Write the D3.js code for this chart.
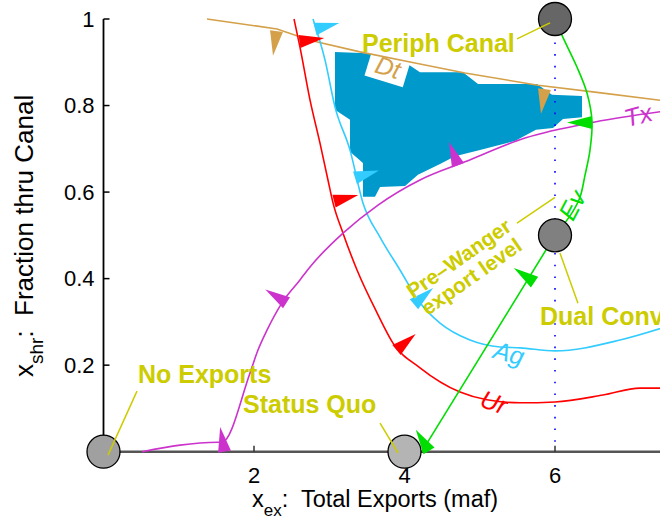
<!DOCTYPE html>
<html>
<head>
<meta charset="utf-8">
<script src="https://cdn.jsdelivr.net/npm/d3@7"></script>
<style>
  html, body { margin: 0; padding: 0; background: #fff; }
  svg { display: block; }
  text { font-family: "Liberation Sans", Arial, sans-serif; white-space: pre; }
</style>
</head>
<body>
<svg id="chart" width="660" height="525"></svg>
<script>
// ---- data (x: total exports in maf, y: fraction through canal) ----
const xTicks = [2, 4, 6];
const yTicks = [0.2, 0.4, 0.6, 0.8, 1];

// stakeholder indifference curves
const dtCurve = [[1.375,1.0],[2.306,0.977],[2.744,0.951],[3.409,0.924],[4.206,0.896],[4.804,0.875],[5.774,0.847],[6.531,0.831],[7.5,0.81]];
const urCurve = [[2.532,1.0],[2.611,0.935],[2.744,0.813],[2.877,0.713],[2.983,0.628],[3.05,0.575],[3.183,0.505],[3.369,0.42],[3.635,0.321],[3.847,0.251],[4.206,0.194],[4.738,0.138],[5.096,0.12],[5.535,0.113],[6.0,0.115],[6.638,0.131],[7.13,0.147],[7.5,0.147]];
const agCurve = [[2.784,1.0],[2.944,0.905],[3.076,0.797],[3.276,0.697],[3.448,0.575],[3.674,0.496],[3.94,0.42],[4.206,0.344],[4.472,0.297],[4.87,0.258],[5.269,0.242],[5.535,0.24],[6.0,0.233],[6.864,0.258],[7.5,0.29]];
const txCurve = [[0.512,0.0],[1.521,0.022],[1.575,0.022],[1.947,0.182],[2.053,0.235],[2.173,0.281],[2.372,0.344],[2.611,0.397],[2.744,0.427],[3.183,0.505],[3.648,0.57],[4.206,0.628],[4.804,0.67],[5.601,0.725],[6.531,0.762],[7.5,0.788]];
const evArc  = [[6.0,1.0],[6.093,0.962],[6.292,0.889],[6.425,0.829],[6.492,0.763],[6.465,0.697],[6.399,0.639],[6.332,0.588],[6.226,0.552],[6.0,0.5]];
const evLine = [[6.0,0.5],[4.23,0.0]];

// region acceptable to all parties
const region = [[3.076,0.924],[3.502,0.921],[4.007,0.900],[4.206,0.877],[4.777,0.877],[4.977,0.850],[5.761,0.850],[5.960,0.825],[6.359,0.822],[6.359,0.773],[6.106,0.769],[5.973,0.748],[5.747,0.744],[5.468,0.718],[5.003,0.697],[4.671,0.683],[4.472,0.665],[4.179,0.640],[4.007,0.614],[3.675,0.612],[3.608,0.589],[3.448,0.589],[3.448,0.667],[3.276,0.693],[3.276,0.767],[3.076,0.790]];

// preference arrows: anchor point on a curve and pointing angle (deg)
const dtArrows = [[2.299,0.972,98],[5.860,0.838,98]];
const urArrows = [[2.605,0.948,-8],[3.063,0.579,-14],[3.894,0.235,-40]];
const agArrows = [[2.811,0.977,-14],[3.342,0.633,-17],[4.126,0.341,-40]];
const txArrows = [[1.608,0.0,-100],[2.432,0.344,-148],[4.711,0.662,-111]];
const evArrows = [[6.492,0.761,180],[5.728,0.392,-146],[4.326,0.002,-122]];

// named outcomes
const outcomes = [
  {name: "No Exports",   x: 0, y: 0,   fill: "#a0a0a0"},
  {name: "Status Quo",   x: 4, y: 0,   fill: "#b4b4b4"},
  {name: "Periph Canal", x: 6, y: 1,   fill: "#666666"},
  {name: "Dual Conv",    x: 6, y: 0.5, fill: "#808080"}
];
// outcome labels: text start and leader line (from, to)
const outcomeLabels = [
  {text: "No Exports",   x: 0.458, y: 0.159, lead: [[0.445,0.140],[0.06,-0.008]]},
  {text: "Status Quo",   x: 1.854, y: 0.089, lead: [[3.675,0.066],[3.914,-0.003]]},
  {text: "Periph Canal", x: 3.435, y: 0.924, lead: [[5.495,0.954],[5.934,0.991]]},
  {text: "Dual Conv",    x: 5.801, y: 0.293, lead: [[6.066,0.459],[6.305,0.343]]}
];
const preWangerLines = ["Pre\u2013Wanger", "export level"];
const preWangerPos = {x: 4.72, y: 0.447, rot: -35, lead: [[5.495,0.528],[6.0,0.588]]};

// curve name labels: centre and rotation
const curveLabels = [
  {text: "Dt", x: 3.781, y: 0.889, rot: 17,  color: "#d4a04a", box: true},
  {text: "Tx", x: 7.103, y: 0.778, rot: -15, color: "#cc33cc"},
  {text: "Ev", x: 6.226, y: 0.570, rot: -62, color: "#00dd00"},
  {text: "Ag", x: 5.389, y: 0.228, rot: 15,  color: "#33ccff"},
  {text: "Ur", x: 5.189, y: 0.115, rot: 20,  color: "#ff0000"}
];

// ---- drawing ----
const svg = d3.select("#chart");
const xS = d3.scaleLinear().domain([0, 8]).range([103.5, 705.5]);
const yS = d3.scaleLinear().domain([0, 1]).range([451.7, 19]);
const X = d => xS(d[0]), Y = d => yS(d[1]);

const COL = {dt: "#d4a04a", ur: "#ff0000", ag: "#33ccff", tx: "#cc33cc", ev: "#00dd00", region: "#0099cc", note: "#cccc00"};

// feasible region
svg.append("path")
  .attr("d", d3.line().x(X).y(Y)(region) + "Z")
  .attr("fill", COL.region);

// curve labels (Dt sits on a white box)
curveLabels.forEach(l => {
  const g = svg.append("g")
    .attr("transform", `translate(${xS(l.x)},${yS(l.y)}) rotate(${l.rot})`);
  if (l.box) {
    g.append("rect").attr("x", -20).attr("y", -15).attr("width", 40).attr("height", 30).attr("fill", "#fff");
  }
  g.append("text")
    .attr("text-anchor", "middle").attr("dominant-baseline", "central")
    .attr("font-size", 25).attr("font-style", "italic")
    .attr("fill", l.color).text(l.text);
});

// dotted reference at the pre-Wanger export level
svg.append("line")
  .attr("x1", xS(6)).attr("x2", xS(6)).attr("y1", yS(1)).attr("y2", yS(0))
  .attr("stroke", "#0000ff").attr("stroke-width", 1.6)
  .attr("stroke-dasharray", "1.6 10.1");

// axes
const axisG = svg.append("g");
axisG.append("line").attr("x1", xS(0)).attr("x2", 660).attr("y1", yS(0)).attr("y2", yS(0))
  .attr("stroke", "#555").attr("stroke-width", 2.6);
axisG.append("line").attr("x1", xS(0)).attr("x2", xS(0)).attr("y1", yS(1)).attr("y2", yS(0))
  .attr("stroke", "#000").attr("stroke-width", 1.8);
xTicks.forEach(t => {
  axisG.append("line").attr("x1", xS(t)).attr("x2", xS(t)).attr("y1", yS(0)).attr("y2", yS(0) - 6)
    .attr("stroke", "#333").attr("stroke-width", 1.5);
  axisG.append("text").attr("x", xS(t)).attr("y", yS(0) + 31)
    .attr("text-anchor", "middle").attr("font-size", 22).text(t);
});
yTicks.forEach(t => {
  axisG.append("line").attr("x1", xS(0)).attr("x2", xS(0) + 6).attr("y1", yS(t)).attr("y2", yS(t))
    .attr("stroke", "#000").attr("stroke-width", 1.5);
  axisG.append("text").attr("x", xS(0) - 9).attr("y", yS(t))
    .attr("text-anchor", "end").attr("dominant-baseline", "central").attr("font-size", 22).text(t);
});

// axis titles
const xl = svg.append("text").attr("x", 252).attr("y", 507).attr("font-size", 23.5);
xl.append("tspan").text("x");
xl.append("tspan").attr("dy", 9).attr("font-size", 17).text("ex");
xl.append("tspan").attr("dy", -9).text(":  Total Exports (maf)");

const yl = svg.append("text").attr("transform", "translate(33,377) rotate(-90)").attr("font-size", 26);
yl.append("tspan").text("x");
yl.append("tspan").attr("dy", 10).attr("font-size", 19).text("shr");
yl.append("tspan").attr("dy", -10).text(":  Fraction thru Canal");

// curves
const lineLin = d3.line().x(X).y(Y);
const lineMono = d3.line().x(X).y(Y).curve(d3.curveMonotoneX);
const lineCR = d3.line().x(X).y(Y).curve(d3.curveCatmullRom.alpha(0.5));
const curves = [
  [dtCurve, lineLin, COL.dt],
  [urCurve, lineMono, COL.ur],
  [agCurve, lineMono, COL.ag],
  [txCurve, lineMono, COL.tx],
  [evArc, lineCR, COL.ev],
  [evLine, lineLin, COL.ev]
];
curves.forEach(([data, gen, col]) => {
  svg.append("path").attr("d", gen(data)).attr("fill", "none")
    .attr("stroke", col).attr("stroke-width", 1.6);
});

// preference arrowheads
function arrowPath(a) {
  const px = xS(a[0]), py = yS(a[1]), r = a[2] * Math.PI / 180;
  const L = 25, hw = 6.5;
  const ux = Math.cos(r), uy = Math.sin(r), nx = -uy, ny = ux;
  return `M${px + nx * hw},${py + ny * hw}L${px + ux * L},${py + uy * L}L${px - nx * hw},${py - ny * hw}Z`;
}
[[dtArrows, COL.dt], [urArrows, COL.ur], [agArrows, COL.ag], [txArrows, COL.tx], [evArrows, COL.ev]]
  .forEach(([arr, col]) => {
    svg.append("g").selectAll("path").data(arr).join("path")
      .attr("d", arrowPath).attr("fill", col);
  });

// pre-Wanger leader line
svg.append("line")
  .attr("x1", xS(preWangerPos.lead[0][0])).attr("y1", yS(preWangerPos.lead[0][1]))
  .attr("x2", xS(preWangerPos.lead[1][0])).attr("y2", yS(preWangerPos.lead[1][1]))
  .attr("stroke", COL.note).attr("stroke-width", 1.5);

// outcome markers
svg.append("g").selectAll("circle").data(outcomes).join("circle")
  .attr("cx", d => xS(d.x)).attr("cy", d => yS(d.y)).attr("r", 16.5)
  .attr("fill", d => d.fill).attr("stroke", "#000").attr("stroke-width", 1.3);

// leader lines drawn over the markers they point into
outcomeLabels.forEach(l => {
  svg.append("line")
    .attr("x1", xS(l.lead[0][0])).attr("y1", yS(l.lead[0][1]))
    .attr("x2", xS(l.lead[1][0])).attr("y2", yS(l.lead[1][1]))
    .attr("stroke", COL.note).attr("stroke-width", 1.5);
});

// outcome labels
outcomeLabels.forEach(l => {
  svg.append("text").attr("x", xS(l.x)).attr("y", yS(l.y))
    .attr("font-size", 25).attr("font-weight", "bold").attr("fill", COL.note).text(l.text);
});
const pw = svg.append("g")
  .attr("transform", `translate(${xS(preWangerPos.x)},${yS(preWangerPos.y)}) rotate(${preWangerPos.rot})`);
preWangerLines.forEach((t, i) => {
  pw.append("text").attr("x", 0).attr("y", i * 22).attr("text-anchor", "middle")
    .attr("dominant-baseline", "central")
    .attr("font-size", 21).attr("font-weight", "bold").attr("fill", COL.note).text(t);
});
</script>
</body>
</html>
